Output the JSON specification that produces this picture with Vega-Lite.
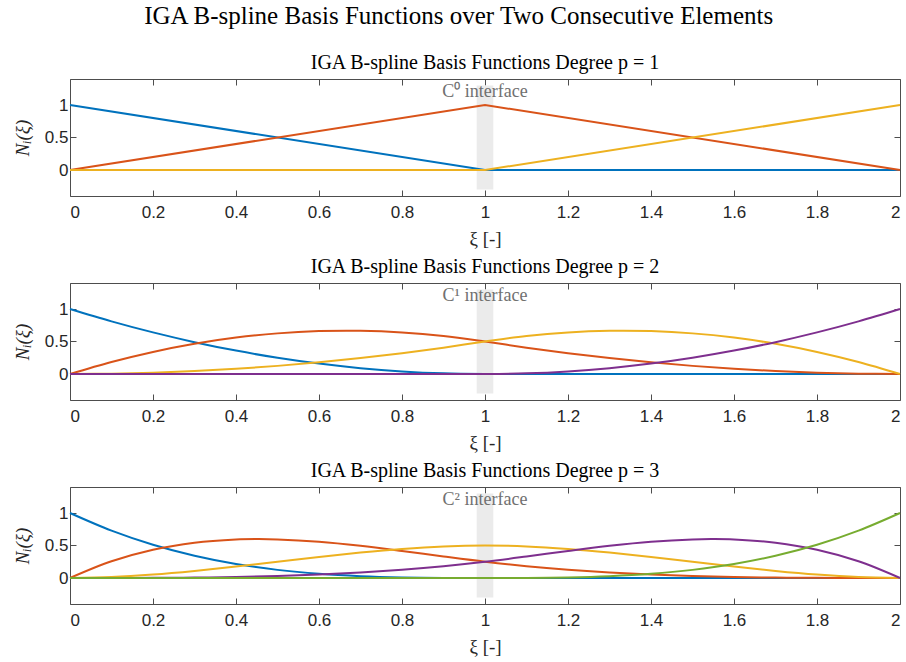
{
  "$schema": "https://vega.github.io/schema/vega-lite/v6.json",
  "background": "white",
  "padding": {"left": 12, "top": 4, "right": 0, "bottom": 0},
  "title": {"text": "IGA B-spline Basis Functions over Two Consecutive Elements", "font": "Liberation Serif", "fontSize": 25, "fontWeight": "normal", "color": "black", "anchor": "middle", "offset": 23},
  "spacing": 7,
  "datasets": {
    "d1": [
      {"x":0,"f":"N1","y":1},{"x":1,"f":"N1","y":0},{"x":2,"f":"N1","y":0},
      {"x":0,"f":"N2","y":0},{"x":1,"f":"N2","y":1},{"x":2,"f":"N2","y":0},
      {"x":0,"f":"N3","y":0},{"x":1,"f":"N3","y":0},{"x":2,"f":"N3","y":1}
    ],
    "d2": [
      {"x":0,"f":"N1","y":1},{"x":0.1,"f":"N1","y":0.81},{"x":0.2,"f":"N1","y":0.64},{"x":0.3,"f":"N1","y":0.49},{"x":0.4,"f":"N1","y":0.36},{"x":0.5,"f":"N1","y":0.25},{"x":0.6,"f":"N1","y":0.16},{"x":0.7,"f":"N1","y":0.09},{"x":0.8,"f":"N1","y":0.04},{"x":0.9,"f":"N1","y":0.01},{"x":1,"f":"N1","y":0},{"x":1.1,"f":"N1","y":0},{"x":1.2,"f":"N1","y":0},{"x":1.3,"f":"N1","y":0},{"x":1.4,"f":"N1","y":0},{"x":1.5,"f":"N1","y":0},{"x":1.6,"f":"N1","y":0},{"x":1.7,"f":"N1","y":0},{"x":1.8,"f":"N1","y":0},{"x":1.9,"f":"N1","y":0},{"x":2,"f":"N1","y":0},
      {"x":0,"f":"N2","y":0},{"x":0.1,"f":"N2","y":0.185},{"x":0.2,"f":"N2","y":0.34},{"x":0.3,"f":"N2","y":0.465},{"x":0.4,"f":"N2","y":0.56},{"x":0.5,"f":"N2","y":0.625},{"x":0.6,"f":"N2","y":0.66},{"x":0.7,"f":"N2","y":0.665},{"x":0.8,"f":"N2","y":0.64},{"x":0.9,"f":"N2","y":0.585},{"x":1,"f":"N2","y":0.5},{"x":1.1,"f":"N2","y":0.405},{"x":1.2,"f":"N2","y":0.32},{"x":1.3,"f":"N2","y":0.245},{"x":1.4,"f":"N2","y":0.18},{"x":1.5,"f":"N2","y":0.125},{"x":1.6,"f":"N2","y":0.08},{"x":1.7,"f":"N2","y":0.045},{"x":1.8,"f":"N2","y":0.02},{"x":1.9,"f":"N2","y":0.005},{"x":2,"f":"N2","y":0},
      {"x":0,"f":"N3","y":0},{"x":0.1,"f":"N3","y":0.005},{"x":0.2,"f":"N3","y":0.02},{"x":0.3,"f":"N3","y":0.045},{"x":0.4,"f":"N3","y":0.08},{"x":0.5,"f":"N3","y":0.125},{"x":0.6,"f":"N3","y":0.18},{"x":0.7,"f":"N3","y":0.245},{"x":0.8,"f":"N3","y":0.32},{"x":0.9,"f":"N3","y":0.405},{"x":1,"f":"N3","y":0.5},{"x":1.1,"f":"N3","y":0.585},{"x":1.2,"f":"N3","y":0.64},{"x":1.3,"f":"N3","y":0.665},{"x":1.4,"f":"N3","y":0.66},{"x":1.5,"f":"N3","y":0.625},{"x":1.6,"f":"N3","y":0.56},{"x":1.7,"f":"N3","y":0.465},{"x":1.8,"f":"N3","y":0.34},{"x":1.9,"f":"N3","y":0.185},{"x":2,"f":"N3","y":0},
      {"x":0,"f":"N4","y":0},{"x":0.1,"f":"N4","y":0},{"x":0.2,"f":"N4","y":0},{"x":0.3,"f":"N4","y":0},{"x":0.4,"f":"N4","y":0},{"x":0.5,"f":"N4","y":0},{"x":0.6,"f":"N4","y":0},{"x":0.7,"f":"N4","y":0},{"x":0.8,"f":"N4","y":0},{"x":0.9,"f":"N4","y":0},{"x":1,"f":"N4","y":0},{"x":1.1,"f":"N4","y":0.01},{"x":1.2,"f":"N4","y":0.04},{"x":1.3,"f":"N4","y":0.09},{"x":1.4,"f":"N4","y":0.16},{"x":1.5,"f":"N4","y":0.25},{"x":1.6,"f":"N4","y":0.36},{"x":1.7,"f":"N4","y":0.49},{"x":1.8,"f":"N4","y":0.64},{"x":1.9,"f":"N4","y":0.81},{"x":2,"f":"N4","y":1}
    ],
    "d3": [
      {"x":0,"f":"N1","y":1},{"x":0.1,"f":"N1","y":0.729},{"x":0.2,"f":"N1","y":0.512},{"x":0.3,"f":"N1","y":0.343},{"x":0.4,"f":"N1","y":0.216},{"x":0.5,"f":"N1","y":0.125},{"x":0.6,"f":"N1","y":0.064},{"x":0.7,"f":"N1","y":0.027},{"x":0.8,"f":"N1","y":0.008},{"x":0.9,"f":"N1","y":0.001},{"x":1,"f":"N1","y":0},{"x":1.1,"f":"N1","y":0},{"x":1.2,"f":"N1","y":0},{"x":1.3,"f":"N1","y":0},{"x":1.4,"f":"N1","y":0},{"x":1.5,"f":"N1","y":0},{"x":1.6,"f":"N1","y":0},{"x":1.7,"f":"N1","y":0},{"x":1.8,"f":"N1","y":0},{"x":1.9,"f":"N1","y":0},{"x":2,"f":"N1","y":0},
      {"x":0,"f":"N2","y":0},{"x":0.1,"f":"N2","y":0.25675},{"x":0.2,"f":"N2","y":0.434},{"x":0.3,"f":"N2","y":0.54225},{"x":0.4,"f":"N2","y":0.592},{"x":0.45,"f":"N2","y":0.59822},{"x":0.5,"f":"N2","y":0.59375},{"x":0.6,"f":"N2","y":0.558},{"x":0.7,"f":"N2","y":0.49525},{"x":0.8,"f":"N2","y":0.416},{"x":0.9,"f":"N2","y":0.33075},{"x":1,"f":"N2","y":0.25},{"x":1.1,"f":"N2","y":0.18225},{"x":1.2,"f":"N2","y":0.128},{"x":1.3,"f":"N2","y":0.08575},{"x":1.4,"f":"N2","y":0.054},{"x":1.5,"f":"N2","y":0.03125},{"x":1.6,"f":"N2","y":0.016},{"x":1.7,"f":"N2","y":0.00675},{"x":1.8,"f":"N2","y":0.002},{"x":1.9,"f":"N2","y":0.00025},{"x":2,"f":"N2","y":0},
      {"x":0,"f":"N3","y":0},{"x":0.1,"f":"N3","y":0.014},{"x":0.2,"f":"N3","y":0.052},{"x":0.3,"f":"N3","y":0.108},{"x":0.4,"f":"N3","y":0.176},{"x":0.5,"f":"N3","y":0.25},{"x":0.6,"f":"N3","y":0.324},{"x":0.7,"f":"N3","y":0.392},{"x":0.8,"f":"N3","y":0.448},{"x":0.9,"f":"N3","y":0.486},{"x":1,"f":"N3","y":0.5},{"x":1.1,"f":"N3","y":0.486},{"x":1.2,"f":"N3","y":0.448},{"x":1.3,"f":"N3","y":0.392},{"x":1.4,"f":"N3","y":0.324},{"x":1.5,"f":"N3","y":0.25},{"x":1.6,"f":"N3","y":0.176},{"x":1.7,"f":"N3","y":0.108},{"x":1.8,"f":"N3","y":0.052},{"x":1.9,"f":"N3","y":0.014},{"x":2,"f":"N3","y":0},
      {"x":0,"f":"N4","y":0},{"x":0.1,"f":"N4","y":0.00025},{"x":0.2,"f":"N4","y":0.002},{"x":0.3,"f":"N4","y":0.00675},{"x":0.4,"f":"N4","y":0.016},{"x":0.5,"f":"N4","y":0.03125},{"x":0.6,"f":"N4","y":0.054},{"x":0.7,"f":"N4","y":0.08575},{"x":0.8,"f":"N4","y":0.128},{"x":0.9,"f":"N4","y":0.18225},{"x":1,"f":"N4","y":0.25},{"x":1.1,"f":"N4","y":0.33075},{"x":1.2,"f":"N4","y":0.416},{"x":1.3,"f":"N4","y":0.49525},{"x":1.4,"f":"N4","y":0.558},{"x":1.5,"f":"N4","y":0.59375},{"x":1.55,"f":"N4","y":0.59822},{"x":1.6,"f":"N4","y":0.592},{"x":1.7,"f":"N4","y":0.54225},{"x":1.8,"f":"N4","y":0.434},{"x":1.9,"f":"N4","y":0.25675},{"x":2,"f":"N4","y":0},
      {"x":0,"f":"N5","y":0},{"x":0.1,"f":"N5","y":0},{"x":0.2,"f":"N5","y":0},{"x":0.3,"f":"N5","y":0},{"x":0.4,"f":"N5","y":0},{"x":0.5,"f":"N5","y":0},{"x":0.6,"f":"N5","y":0},{"x":0.7,"f":"N5","y":0},{"x":0.8,"f":"N5","y":0},{"x":0.9,"f":"N5","y":0},{"x":1,"f":"N5","y":0},{"x":1.1,"f":"N5","y":0.001},{"x":1.2,"f":"N5","y":0.008},{"x":1.3,"f":"N5","y":0.027},{"x":1.4,"f":"N5","y":0.064},{"x":1.5,"f":"N5","y":0.125},{"x":1.6,"f":"N5","y":0.216},{"x":1.7,"f":"N5","y":0.343},{"x":1.8,"f":"N5","y":0.512},{"x":1.9,"f":"N5","y":0.729},{"x":2,"f":"N5","y":1}
    ]
  },
  "vconcat": [
    {
      "width": 830, "height": 117,
      "title": {"text": "IGA B-spline Basis Functions Degree p = 1", "frame": "group"},
      "layer": [
        {"data": {"values": [{}]}, "mark": {"type": "rect", "color": "#ebebeb"},
         "encoding": {
           "x": {"datum": 0.98, "type": "quantitative", "scale": {"domain": [0, 2]}, "axis": {"orient": "top", "labels": false, "title": null, "values": [0,0.2,0.4,0.6,0.8,1,1.2,1.4,1.6,1.8,2]}},
           "x2": {"datum": 1.02},
           "y": {"datum": -0.3, "type": "quantitative", "scale": {"domain": [-0.4, 1.3]}, "axis": {"orient": "right", "labels": false, "title": null, "values": [0, 0.5, 1]}},
           "y2": {"datum": 1.3}}},
        {"data": {"name": "d1"}, "mark": {"type": "line", "strokeWidth": 2},
         "encoding": {
           "x": {"field": "x", "type": "quantitative", "axis": {"orient": "bottom", "title": "ξ [-]", "values": [0,0.2,0.4,0.6,0.8,1,1.2,1.4,1.6,1.8,2], "format": "~g"}},
           "y": {"field": "y", "type": "quantitative", "axis": {"orient": "left", "title": "Nᵢ(ξ)", "values": [0, 0.5, 1], "format": "~g"}},
           "color": {"field": "f", "type": "nominal", "legend": null, "scale": {"domain": ["N1","N2","N3","N4","N5"], "range": ["#0072BD","#D95319","#EDB120","#7E2F8E","#77AC30"]}}}},
        {"data": {"values": [{}]}, "mark": {"type": "text", "font": "Liberation Serif", "fontSize": 18, "color": "#707070", "baseline": "alphabetic", "align": "center"},
         "encoding": {"x": {"datum": 1, "type": "quantitative", "axis": null}, "y": {"datum": 1.12, "type": "quantitative", "axis": null}, "text": {"value": "C⁰ interface"}}}
      ],
      "resolve": {"axis": {"x": "independent", "y": "independent"}}
    },
    {
      "width": 830, "height": 117,
      "title": {"text": "IGA B-spline Basis Functions Degree p = 2", "frame": "group"},
      "layer": [
        {"data": {"values": [{}]}, "mark": {"type": "rect", "color": "#ebebeb"},
         "encoding": {
           "x": {"datum": 0.98, "type": "quantitative", "scale": {"domain": [0, 2]}, "axis": {"orient": "top", "labels": false, "title": null, "values": [0,0.2,0.4,0.6,0.8,1,1.2,1.4,1.6,1.8,2]}},
           "x2": {"datum": 1.02},
           "y": {"datum": -0.3, "type": "quantitative", "scale": {"domain": [-0.4, 1.3]}, "axis": {"orient": "right", "labels": false, "title": null, "values": [0, 0.5, 1]}},
           "y2": {"datum": 1.3}}},
        {"data": {"name": "d2"}, "mark": {"type": "line", "strokeWidth": 2, "interpolate": "catmull-rom"},
         "encoding": {
           "x": {"field": "x", "type": "quantitative", "axis": {"orient": "bottom", "title": "ξ [-]", "values": [0,0.2,0.4,0.6,0.8,1,1.2,1.4,1.6,1.8,2], "format": "~g"}},
           "y": {"field": "y", "type": "quantitative", "axis": {"orient": "left", "title": "Nᵢ(ξ)", "values": [0, 0.5, 1], "format": "~g"}},
           "color": {"field": "f", "type": "nominal", "legend": null, "scale": {"domain": ["N1","N2","N3","N4","N5"], "range": ["#0072BD","#D95319","#EDB120","#7E2F8E","#77AC30"]}}}},
        {"data": {"values": [{}]}, "mark": {"type": "text", "font": "Liberation Serif", "fontSize": 18, "color": "#707070", "baseline": "alphabetic", "align": "center"},
         "encoding": {"x": {"datum": 1, "type": "quantitative", "axis": null}, "y": {"datum": 1.12, "type": "quantitative", "axis": null}, "text": {"value": "C¹ interface"}}}
      ],
      "resolve": {"axis": {"x": "independent", "y": "independent"}}
    },
    {
      "width": 830, "height": 117,
      "title": {"text": "IGA B-spline Basis Functions Degree p = 3", "frame": "group"},
      "layer": [
        {"data": {"values": [{}]}, "mark": {"type": "rect", "color": "#ebebeb"},
         "encoding": {
           "x": {"datum": 0.98, "type": "quantitative", "scale": {"domain": [0, 2]}, "axis": {"orient": "top", "labels": false, "title": null, "values": [0,0.2,0.4,0.6,0.8,1,1.2,1.4,1.6,1.8,2]}},
           "x2": {"datum": 1.02},
           "y": {"datum": -0.3, "type": "quantitative", "scale": {"domain": [-0.4, 1.3]}, "axis": {"orient": "right", "labels": false, "title": null, "values": [0, 0.5, 1]}},
           "y2": {"datum": 1.3}}},
        {"data": {"name": "d3"}, "mark": {"type": "line", "strokeWidth": 2, "interpolate": "catmull-rom"},
         "encoding": {
           "x": {"field": "x", "type": "quantitative", "axis": {"orient": "bottom", "title": "ξ [-]", "values": [0,0.2,0.4,0.6,0.8,1,1.2,1.4,1.6,1.8,2], "format": "~g"}},
           "y": {"field": "y", "type": "quantitative", "axis": {"orient": "left", "title": "Nᵢ(ξ)", "values": [0, 0.5, 1], "format": "~g"}},
           "color": {"field": "f", "type": "nominal", "legend": null, "scale": {"domain": ["N1","N2","N3","N4","N5"], "range": ["#0072BD","#D95319","#EDB120","#7E2F8E","#77AC30"]}}}},
        {"data": {"values": [{}]}, "mark": {"type": "text", "font": "Liberation Serif", "fontSize": 18, "color": "#707070", "baseline": "alphabetic", "align": "center"},
         "encoding": {"x": {"datum": 1, "type": "quantitative", "axis": null}, "y": {"datum": 1.12, "type": "quantitative", "axis": null}, "text": {"value": "C² interface"}}}
      ],
      "resolve": {"axis": {"x": "independent", "y": "independent"}}
    }
  ],
  "config": {
    "view": {"stroke": "#4d4d4d", "strokeWidth": 1},
    "axis": {
      "grid": false, "domain": false,
      "tickColor": "#4d4d4d", "tickSize": -6, "tickWidth": 1,
      "labelFont": "Liberation Sans", "labelFontSize": 17, "labelColor": "#262626", "labelPadding": 8,
      "titleFont": "Liberation Serif", "titleFontSize": 19, "titleFontWeight": "normal", "titleColor": "#262626"
    },
    "axisX": {"titlePadding": 9, "labelPadding": 14},
    "axisY": {"titlePadding": 12, "titleFontStyle": "italic"},
    "title": {"font": "Liberation Serif", "fontSize": 20, "fontWeight": "normal", "color": "black", "offset": 6}
  }
}
